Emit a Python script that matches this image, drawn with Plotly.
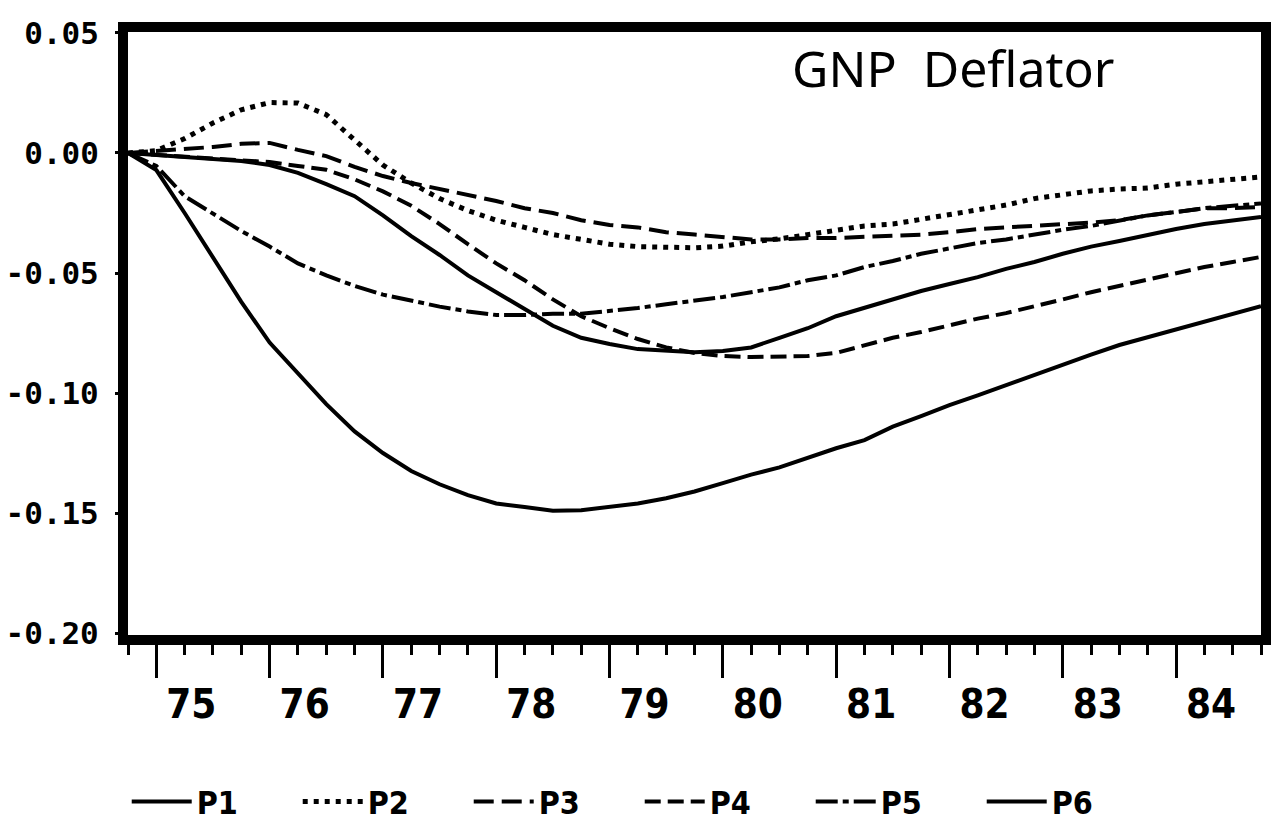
import plotly.graph_objects as go

# quarterly index: 0 = 1974Q4 ... 40 = 1984Q4
quarters = list(range(41))

p1 = [0.0, -0.0071, -0.025, -0.0438, -0.062, -0.079, -0.092, -0.1046, -0.116, -0.125,
      -0.1325, -0.138, -0.1425, -0.146, -0.1475, -0.149, -0.1488, -0.1475, -0.146, -0.1438,
      -0.141, -0.1375, -0.134, -0.131, -0.127, -0.123, -0.1196, -0.114, -0.1096, -0.105,
      -0.101, -0.0967, -0.0925, -0.088, -0.084, -0.080, -0.0767, -0.0733, -0.070, -0.0667,
      -0.0638]
p2 = [0.0, 0.001, 0.006, 0.0125, 0.018, 0.021, 0.0208, 0.016, 0.0054, -0.005,
      -0.0125, -0.019, -0.024, -0.028, -0.031, -0.034, -0.036, -0.038, -0.039, -0.039,
      -0.0395, -0.0388, -0.037, -0.0358, -0.034, -0.0317, -0.0304, -0.0296, -0.0275, -0.0254,
      -0.0233, -0.0217, -0.019, -0.0175, -0.0158, -0.015, -0.0146, -0.013, -0.012, -0.011,
      -0.010]
p3 = [0.0, 0.0008, 0.0017, 0.0025, 0.0038, 0.0042, 0.0013, -0.0013, -0.0058, -0.0096,
      -0.0125, -0.015, -0.0175, -0.020, -0.023, -0.025, -0.028, -0.030, -0.031, -0.033,
      -0.034, -0.035, -0.036, -0.036, -0.0354, -0.0354, -0.035, -0.0346, -0.034, -0.033,
      -0.0317, -0.031, -0.0304, -0.0296, -0.029, -0.028, -0.026, -0.0246, -0.023, -0.023,
      -0.0225]
p4 = [0.0, -0.0008, -0.0017, -0.0025, -0.003, -0.0038, -0.0054, -0.007, -0.011, -0.016,
      -0.022, -0.0296, -0.038, -0.046, -0.053, -0.061, -0.068, -0.073, -0.0775, -0.081,
      -0.0833, -0.0846, -0.085, -0.085, -0.0846, -0.0833, -0.080, -0.077, -0.0746, -0.0717,
      -0.069, -0.0667, -0.064, -0.061, -0.058, -0.0554, -0.0525, -0.050, -0.0475, -0.0454,
      -0.0433]
p5 = [0.0, -0.0054, -0.018, -0.0254, -0.0325, -0.039, -0.046, -0.051, -0.0554, -0.059,
      -0.0617, -0.064, -0.066, -0.0675, -0.0675, -0.067, -0.067, -0.066, -0.0646, -0.063,
      -0.0617, -0.060, -0.058, -0.056, -0.053, -0.051, -0.0475, -0.045, -0.042, -0.0396,
      -0.0375, -0.036, -0.0338, -0.032, -0.0304, -0.028, -0.026, -0.0246, -0.023, -0.022,
      -0.021]
p6 = [0.0, -0.0008, -0.0017, -0.0025, -0.0033, -0.005, -0.0083, -0.013, -0.018, -0.026,
      -0.0346, -0.0425, -0.051, -0.058, -0.065, -0.072, -0.077, -0.0796, -0.0817, -0.0825,
      -0.083, -0.0825, -0.081, -0.077, -0.073, -0.068, -0.0646, -0.061, -0.0575, -0.0546,
      -0.0517, -0.0483, -0.0454, -0.042, -0.039, -0.0367, -0.034, -0.0317, -0.0296, -0.028,
      -0.0267]

series_names = ["P1", "P2", "P3", "P4", "P5", "P6"]
series_values = [p1, p2, p3, p4, p5, p6]

year_labels = ["75", "76", "77", "78", "79", "80", "81", "82", "83", "84"]
y_ticks = [-0.20, -0.15, -0.10, -0.05, 0.00, 0.05]
y_tick_labels = ["-0.20", "-0.15", "-0.10", "-0.05", "0.00", "0.05"]
chart_title = "GNP  Deflator"

dash_styles = ["solid", "5px,6px", "20px,8px", "16px,7px", "22px,5px,6px,5px", "solid"]
line_widths = [4, 5, 4, 4, 4, 4]

NARROW = "Liberation Sans Narrow, DejaVu Sans Condensed, sans-serif"
MONO = "DejaVu Sans Mono, Liberation Mono, monospace"

fig = go.Figure()
for name, vals, dash, lw in zip(series_names, series_values, dash_styles, line_widths):
    fig.add_trace(go.Scatter(
        x=quarters, y=vals, mode="lines", name=name,
        line=dict(color="black", width=lw, dash=dash),
    ))

fig.update_layout(
    width=1280, height=823,
    margin=dict(l=128, r=19, t=32, b=188, autoexpand=False),
    paper_bgcolor="white", plot_bgcolor="white",
    showlegend=True,
    legend=dict(
        orientation="h", xref="container", x=0.099, xanchor="left",
        yref="container", y=0.026, yanchor="middle",
        entrywidth=96, entrywidthmode="pixels", itemwidth=60,
        font=dict(family=NARROW, size=32, color="black", weight="bold"),
        bgcolor="rgba(0,0,0,0)",
    ),
    xaxis=dict(
        range=[0, 40], showgrid=False, zeroline=False, automargin=False,
        showline=True, linewidth=10, linecolor="black", mirror=True,
        tickmode="array", tickvals=quarters[1::4], ticktext=year_labels,
        ticks="outside", ticklen=33, tickwidth=3, tickcolor="black",
        ticklabelshift=35, ticklabelstandoff=-8,
        tickfont=dict(family=NARROW, size=40, color="black", weight="bold"),
        minor=dict(dtick=1, tick0=0, ticks="outside", ticklen=10, tickwidth=3,
                   tickcolor="black", showgrid=False),
    ),
    yaxis=dict(
        range=[-0.2008, 0.0504], showgrid=False, zeroline=False, automargin=False,
        showline=True, linewidth=10, linecolor="black", mirror=True,
        tickmode="array", tickvals=y_ticks, ticktext=y_tick_labels,
        ticks="outside", ticklen=3, tickwidth=3, tickcolor="black",
        ticklabelstandoff=10,
        tickfont=dict(family=MONO, size=31, color="black", weight="bold"),
    ),
    annotations=[dict(
        text=chart_title, xref="paper", yref="paper", x=0.728, y=0.94,
        xanchor="center", yanchor="middle", showarrow=False,
        font=dict(family="Noto Sans, DejaVu Sans, sans-serif", size=50, color="black"),
    )],
)

fig.write_html("out.html")
